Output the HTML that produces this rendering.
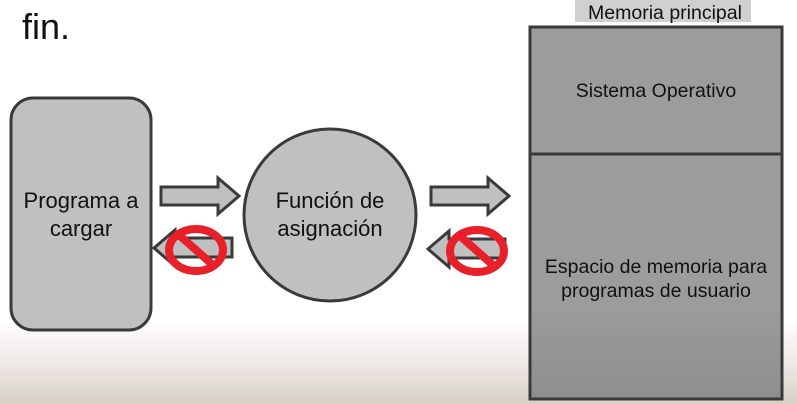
<!DOCTYPE html>
<html><head><style>
body{margin:0;width:797px;height:404px;overflow:hidden;font-family:"Liberation Sans",sans-serif;
background:linear-gradient(to bottom,#fff 0,#fff 320px,#efebe7 360px,#d9d0c6 404px);position:relative}
</style></head><body>
<div style="position:absolute;left:22px;top:6px;font-size:36px;color:#111">fin.</div>
<div style="position:absolute;left:575px;top:0;width:176px;height:22px;background:#d0d0d0;"></div>
<div style="position:absolute;left:540px;top:2px;width:250px;text-align:center;font-size:19.5px;line-height:22px;color:#111">Memoria principal</div>
<svg width="797" height="404" style="position:absolute;left:0;top:0">
<defs><linearGradient id="g" x1="0" y1="0" x2="0" y2="1"><stop offset="0.75" stop-color="#9c9c9c"/><stop offset="1" stop-color="#8e8e8e"/></linearGradient></defs>
<rect x="11" y="98" width="140" height="232" rx="22" fill="#c0c0c0" stroke="#3a3a3a" stroke-width="3"/>
<circle cx="330" cy="215" r="86" fill="#c0c0c0" stroke="#3a3a3a" stroke-width="3"/>
<rect x="530" y="27" width="252" height="372" fill="url(#g)" stroke="#3a3a3a" stroke-width="3"/>
<line x1="530" y1="154" x2="782" y2="154" stroke="#3a3a3a" stroke-width="3"/>
<g fill="#c0c0c0" stroke="#3a3a3a" stroke-width="3" stroke-linejoin="miter">
<polygon points="161,187 218,187 218,178 239,196 218,214 218,205 161,205"/>
<polygon points="431,187 488,187 488,178 509,196 488,214 488,205 431,205"/>
<polygon points="232,238 175,238 175,230 154,248 175,266 175,257 232,257"/>
<polygon points="505,239 449,239 449,231 428,249 449,267 449,258 505,258"/>
</g>
<g fill="none" stroke="#e8202a" stroke-width="8">
<ellipse cx="196" cy="250" rx="27" ry="21"/><line x1="178" y1="234" x2="214" y2="266"/>
<ellipse cx="477" cy="251" rx="27" ry="21"/><line x1="459" y1="235" x2="495" y2="267"/>
</g>
</svg>
<div style="position:absolute;left:0px;top:187px;width:162px;text-align:center;font-size:22px;line-height:28px;color:#111">Programa a<br>cargar</div>
<div style="position:absolute;left:234px;top:187px;width:192px;text-align:center;font-size:22px;line-height:28px;color:#111">Función de<br>asignación</div>
<div style="position:absolute;left:520px;top:80px;width:272px;text-align:center;font-size:19.5px;color:#111">Sistema Operativo</div>
<div style="position:absolute;left:520px;top:255px;width:272px;text-align:center;font-size:19.5px;line-height:24px;color:#111">Espacio de memoria para<br>programas de usuario</div>
</body></html>
